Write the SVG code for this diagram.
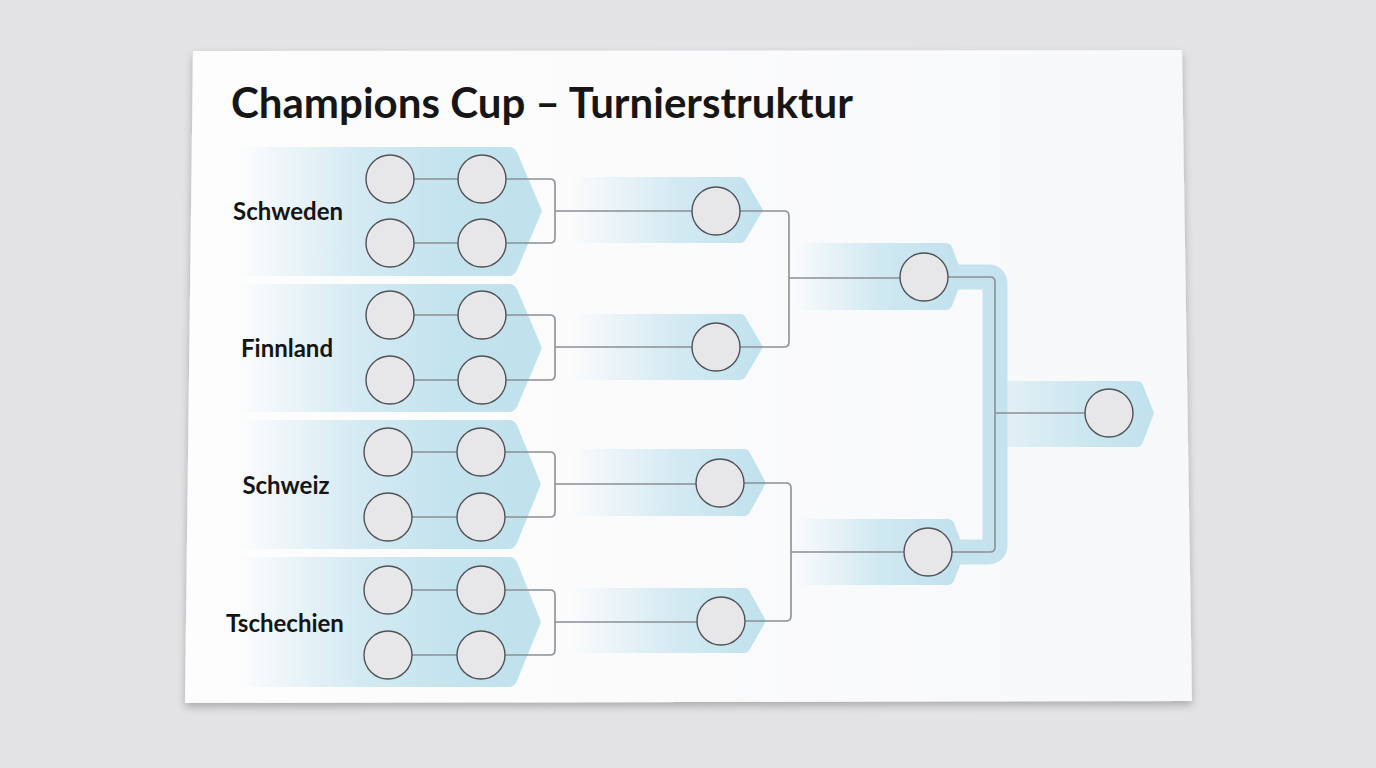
<svg xmlns="http://www.w3.org/2000/svg" width="1376" height="768" viewBox="0 0 1376 768">
<defs>
<style>
.circ{fill:#e7e7e9;stroke:#505256;stroke-width:1.4}
.ln{fill:none;stroke:#8c8f94;stroke-width:1.6}
.lbl{font-family:Lato,"Noto Sans",sans-serif;font-weight:700;font-size:24px;fill:#151515;text-anchor:middle}
.title{font-family:Lato,"Noto Sans",sans-serif;font-weight:700;font-size:42px;fill:#161616}
</style>
<linearGradient id="g1" gradientUnits="userSpaceOnUse" x1="236" y1="0" x2="545" y2="0">
<stop offset="0" stop-color="#c6e4ef" stop-opacity="0"/>
<stop offset="0.4" stop-color="#c6e4ef" stop-opacity="0.75"/>
<stop offset="0.7" stop-color="#c3e3ee" stop-opacity="1"/>
<stop offset="1" stop-color="#c0e2ed" stop-opacity="1"/>
</linearGradient>
<linearGradient id="g2" gradientUnits="userSpaceOnUse" x1="570" y1="0" x2="765" y2="0">
<stop offset="0" stop-color="#c6e4ef" stop-opacity="0"/>
<stop offset="0.55" stop-color="#c6e4ef" stop-opacity="0.75"/>
<stop offset="1" stop-color="#bfe1ed" stop-opacity="1"/>
</linearGradient>
<linearGradient id="g3" gradientUnits="userSpaceOnUse" x1="795" y1="0" x2="963" y2="0">
<stop offset="0" stop-color="#c6e4ef" stop-opacity="0"/>
<stop offset="0.5" stop-color="#c6e4ef" stop-opacity="0.8"/>
<stop offset="1" stop-color="#bfe1ed" stop-opacity="1"/>
</linearGradient>
<linearGradient id="g4" gradientUnits="userSpaceOnUse" x1="1000" y1="0" x2="1155" y2="0">
<stop offset="0" stop-color="#c6e4ef" stop-opacity="0.4"/>
<stop offset="0.5" stop-color="#c6e4ef" stop-opacity="0.85"/>
<stop offset="1" stop-color="#bfe1ed" stop-opacity="1"/>
</linearGradient>
<linearGradient id="card" x1="0" y1="0" x2="1" y2="0">
<stop offset="0" stop-color="#fdfdfd"/>
<stop offset="1" stop-color="#f7f8fa"/>
</linearGradient>
<filter id="sh" x="-5%" y="-5%" width="110%" height="115%">
<feGaussianBlur in="SourceAlpha" stdDeviation="4"/>
<feOffset dx="0" dy="4" result="b"/>
<feComponentTransfer><feFuncA type="linear" slope="0.25"/></feComponentTransfer>
<feMerge><feMergeNode/><feMergeNode in="SourceGraphic"/></feMerge>
</filter>
</defs>
<rect width="1376" height="768" fill="#e3e3e5"/>
<polygon points="193,51 1182,50 1192,701 185,703" fill="url(#card)" filter="url(#sh)"/>
<text class="title" x="231" y="118" textLength="622" lengthAdjust="spacingAndGlyphs">Champions Cup – Turnierstruktur</text>

<g id="bands">
<path d="M236 147 H509 Q514 147 517 152 L542 211 L517 270 Q514 276 509 276 H236 Z" fill="url(#g1)"/>
<path d="M236 284 H509 Q514 284 517 289 L542 348 L517 407 Q514 412 509 412 H236 Z" fill="url(#g1)"/>
<path d="M236 420 H509 Q514 420 517 425 L541 484 L517 543 Q514 549 509 549 H236 Z" fill="url(#g1)"/>
<path d="M236 557 H509 Q514 557 517 562 L541 622 L517 681 Q514 687 509 687 H236 Z" fill="url(#g1)"/>
<path d="M572 177 H740 Q744 177 746 181 L763 210 L746 239 Q744 243 740 243 H572 Z" fill="url(#g2)"/>
<path d="M572 314 H740 Q744 314 746 318 L763 347 L746 376 Q744 380 740 380 H572 Z" fill="url(#g2)"/>
<path d="M572 449 H744 Q748 449 750 453 L766 483 L750 512 Q748 516 744 516 H572 Z" fill="url(#g2)"/>
<path d="M572 588 H744 Q748 588 750 592 L766 621 L750 649 Q748 653 744 653 H572 Z" fill="url(#g2)"/>
<path d="M795 243 H946 Q950 243 952 247 L963 277 L952 306 Q950 310 946 310 H795 Z" fill="url(#g3)"/>
<path d="M795 519 H948 Q952 519 954 523 L965 552 L954 581 Q952 585 948 585 H795 Z" fill="url(#g3)"/>
<path d="M950 277 H988 Q995 277 995 284 V545 Q995 552 988 552 H950" fill="none" stroke="#c5e3ee" stroke-width="25" stroke-linejoin="round"/>
<path d="M998 381 H1137 Q1141 381 1143 385 L1154 413 L1143 442 Q1141 447 1137 447 H998 Z" fill="url(#g4)"/>
</g>

<g id="connectors">
<path class="ln" d="M414 179 H458 M414 243 H458 M506 179 H550 Q555 179 555 184 V238 Q555 243 550 243 H506 M555 211 H692"/>
<path class="ln" d="M414 315 H458 M414 380 H458 M506 315 H550 Q555 315 555 320 V375 Q555 380 550 380 H506 M555 347 H692"/>
<path class="ln" d="M412 452 H457 M412 517 H457 M505 452 H550 Q555 452 555 457 V512 Q555 517 550 517 H505 M555 484 H696"/>
<path class="ln" d="M412 590 H457 M412 655 H457 M505 590 H550 Q555 590 555 595 V650 Q555 655 550 655 H505 M555 622 H697"/>
<path class="ln" d="M740 211 H784 Q789 211 789 216 V342 Q789 347 784 347 H740 M789 278 H901"/>
<path class="ln" d="M744 483 H786 Q791 483 791 488 V616 Q791 621 786 621 H745 M791 552 H904"/>
<path class="ln" d="M948 277 H990 Q995 277 995 282 V547 Q995 552 990 552 H952 M995 413 H1085" stroke="#6f7378" stroke-width="1.3"/>
</g>

<g id="round1">
<circle class="circ" cx="390" cy="179" r="24"/><circle class="circ" cx="482" cy="179" r="24"/>
<circle class="circ" cx="390" cy="243" r="24"/><circle class="circ" cx="482" cy="243" r="24"/>
<circle class="circ" cx="390" cy="315" r="24"/><circle class="circ" cx="482" cy="315" r="24"/>
<circle class="circ" cx="390" cy="380" r="24"/><circle class="circ" cx="482" cy="380" r="24"/>
<circle class="circ" cx="388" cy="452" r="24"/><circle class="circ" cx="481" cy="452" r="24"/>
<circle class="circ" cx="388" cy="517" r="24"/><circle class="circ" cx="481" cy="517" r="24"/>
<circle class="circ" cx="388" cy="590" r="24"/><circle class="circ" cx="481" cy="590" r="24"/>
<circle class="circ" cx="388" cy="655" r="24"/><circle class="circ" cx="481" cy="655" r="24"/>
</g>
<g id="round2">
<circle class="circ" cx="716" cy="211" r="24"/>
<circle class="circ" cx="716" cy="347" r="24"/>
<circle class="circ" cx="720" cy="483" r="24"/>
<circle class="circ" cx="721" cy="621" r="24"/>
</g>
<g id="semis">
<circle class="circ" cx="924" cy="277" r="24"/>
<circle class="circ" cx="928" cy="552" r="24"/>
</g>
<g id="final">
<circle class="circ" cx="1109" cy="413" r="24"/>
</g>
<g id="labels">
<text class="lbl" x="288" y="220">Schweden</text>
<text class="lbl" x="287" y="357">Finnland</text>
<text class="lbl" x="286" y="494">Schweiz</text>
<text class="lbl" x="285" y="632">Tschechien</text>
</g>
</svg>
